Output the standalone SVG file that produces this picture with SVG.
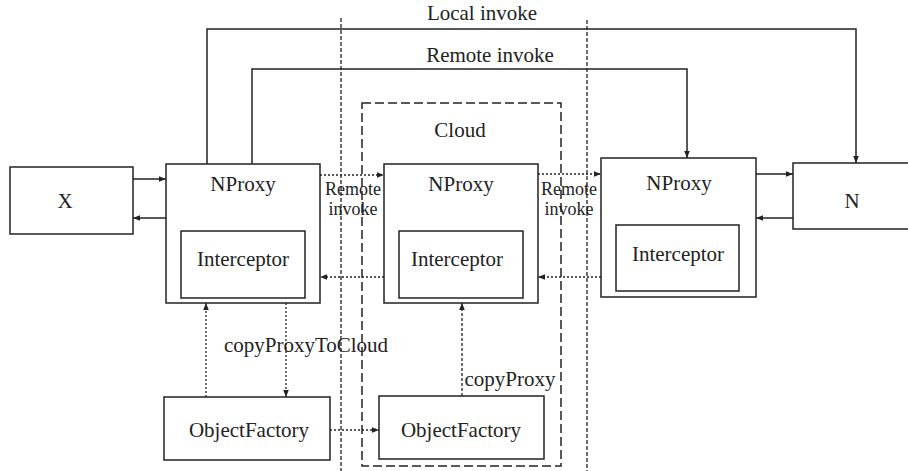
<svg xmlns="http://www.w3.org/2000/svg" width="908" height="471" viewBox="0 0 908 471">
  <defs>
    <marker id="arr" viewBox="0 0 8 8" refX="8" refY="4" markerWidth="7" markerHeight="7" markerUnits="userSpaceOnUse" orient="auto">
      <path d="M0,0.8 L8,4 L0,7.2 Z" fill="#222"/>
    </marker>
  </defs>
  <style>
    .box { fill: #fff; stroke: #222; stroke-width: 1.5; }
    .inner { fill: #fff; stroke: #222; stroke-width: 1.5; }
    .lbl { font-family: "Liberation Serif", "Times New Roman", serif; font-size: 21px; fill: #222; text-anchor: middle; }
    .small { font-family: "Liberation Serif", "Times New Roman", serif; font-size: 18px; fill: #222; text-anchor: middle; }
    .solid { fill: none; stroke: #222; stroke-width: 1.5; }
    .dot { fill: none; stroke: #222; stroke-width: 1.3; stroke-dasharray: 2 2; }
    .dash { fill: none; stroke: #222; stroke-width: 1.3; stroke-dasharray: 3 2; }
    .divider { fill: none; stroke: #222; stroke-width: 1.3; stroke-dasharray: 4 2; }
    .cloud { fill: none; stroke: #222; stroke-width: 1.5; stroke-dasharray: 9 4; }
  </style>
  <rect width="908" height="471" fill="#fff"/>

  <!-- tier dividers -->
  <g id="dividers">
    <line class="divider" x1="341" y1="18" x2="341" y2="471"/>
    <line class="divider" x1="587" y1="20" x2="587" y2="471"/>
  </g>

  <!-- cloud region -->
  <g id="cloud">
    <rect class="cloud" x="362" y="103" width="199" height="363"/>
    <text class="lbl" x="460" y="137">Cloud</text>
  </g>

  <g id="x">
    <rect class="box" x="10" y="167" width="123" height="67"/>
    <text class="lbl" x="65" y="208">X</text>
  </g>

  <g id="nproxy-local">
    <rect class="box" x="166" y="164" width="154" height="139"/>
    <text class="lbl" x="243" y="191">NProxy</text>
    <rect class="inner" x="181" y="231" width="124" height="67"/>
    <text class="lbl" x="243" y="266">Interceptor</text>
  </g>

  <g id="nproxy-cloud">
    <rect class="box" x="384" y="164" width="154" height="139"/>
    <text class="lbl" x="461" y="191">NProxy</text>
    <rect class="inner" x="399" y="231" width="124" height="67"/>
    <text class="lbl" x="457" y="266">Interceptor</text>
  </g>

  <g id="nproxy-remote">
    <rect class="box" x="601" y="158" width="155" height="139"/>
    <text class="lbl" x="679" y="190">NProxy</text>
    <rect class="inner" x="616" y="225" width="123" height="66"/>
    <text class="lbl" x="678" y="261">Interceptor</text>
  </g>

  <g id="n">
    <rect class="box" x="793" y="163" width="120" height="66"/>
    <text class="lbl" x="852" y="208">N</text>
  </g>

  <g id="factory-local">
    <rect class="box" x="164" y="397" width="166" height="63"/>
    <text class="lbl" x="249" y="437">ObjectFactory</text>
  </g>

  <g id="factory-cloud">
    <rect class="box" x="379" y="396" width="165" height="63"/>
    <text class="lbl" x="461" y="437">ObjectFactory</text>
  </g>

  <g id="connectors">
    <!-- invoke paths over the top -->
    <path class="solid" d="M207,164 V29 H856 V163" marker-end="url(#arr)"/>
    <path class="solid" d="M252,164 V69 H687 V158" marker-end="url(#arr)"/>
    <!-- X <-> NProxy -->
    <line class="solid" x1="133" y1="179" x2="166" y2="179" marker-end="url(#arr)"/>
    <line class="solid" x1="166" y1="218" x2="133" y2="218" marker-end="url(#arr)"/>
    <!-- NProxy <-> N -->
    <line class="solid" x1="756" y1="174" x2="793" y2="174" marker-end="url(#arr)"/>
    <line class="solid" x1="793" y1="218" x2="756" y2="218" marker-end="url(#arr)"/>
    <!-- remote hops -->
    <line class="dot" x1="320" y1="175" x2="384" y2="175" marker-end="url(#arr)"/>
    <line class="dot" x1="538" y1="174" x2="601" y2="174" marker-end="url(#arr)"/>
    <line class="dot" x1="384" y1="277" x2="320" y2="277" marker-end="url(#arr)"/>
    <line class="dot" x1="601" y1="277" x2="538" y2="277" marker-end="url(#arr)"/>
    <!-- factory links -->
    <line class="dot" x1="206" y1="397" x2="206" y2="303" marker-end="url(#arr)"/>
    <line class="dot" x1="286" y1="303" x2="286" y2="397" marker-end="url(#arr)"/>
    <line class="dot" x1="330" y1="430" x2="379" y2="430" marker-end="url(#arr)"/>
    <line class="dash" x1="462" y1="396" x2="462" y2="303" marker-end="url(#arr)"/>
  </g>

  <g id="labels">
    <text class="lbl" x="482" y="20">Local invoke</text>
    <text class="lbl" x="490" y="62">Remote invoke</text>
    <text class="small" x="353" y="195">Remote</text>
    <text class="small" x="353" y="215">invoke</text>
    <text class="small" x="569" y="195">Remote</text>
    <text class="small" x="569" y="215">invoke</text>
    <text class="lbl" x="306" y="352">copyProxyToCloud</text>
    <text class="lbl" x="510" y="386">copyProxy</text>
  </g>
</svg>
